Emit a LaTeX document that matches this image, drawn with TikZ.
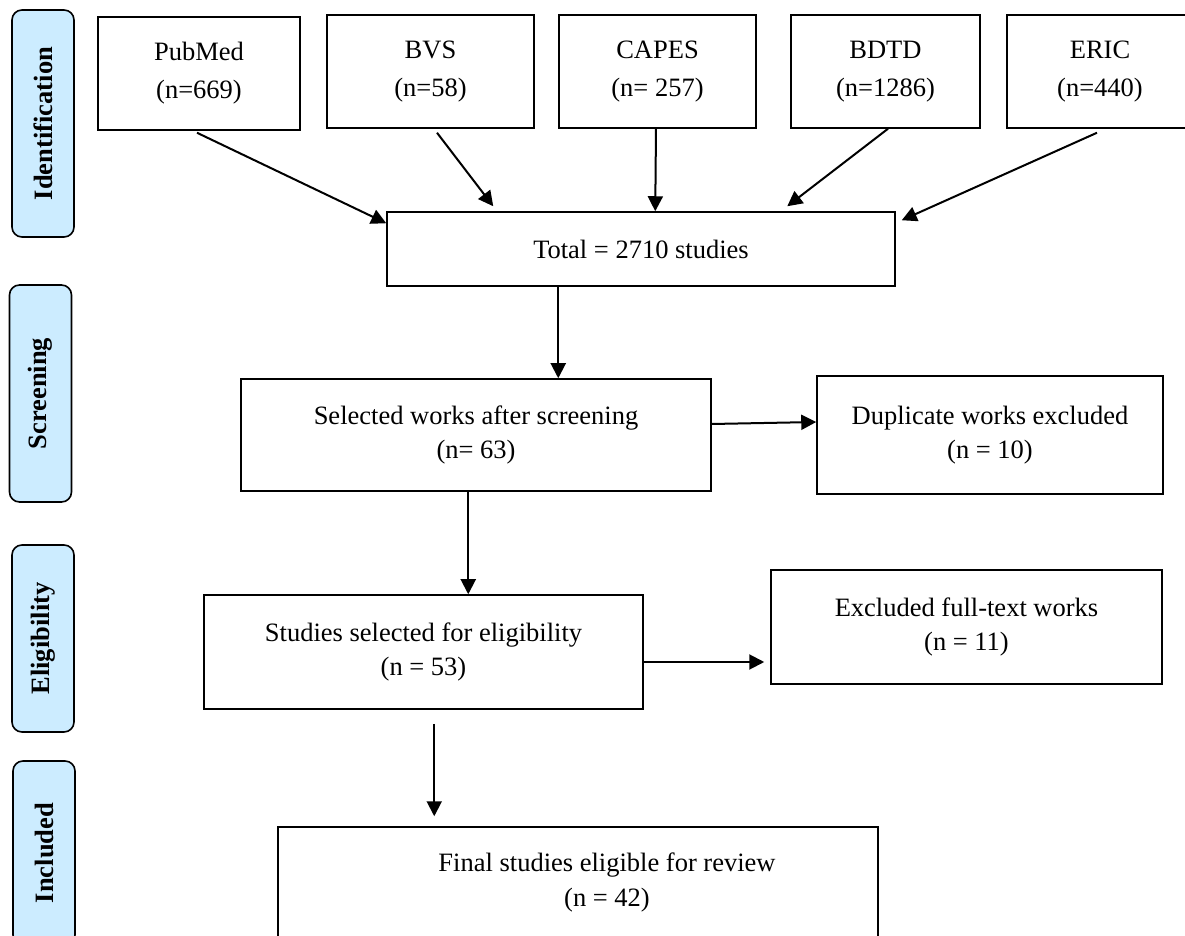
\documentclass[tikz,border=0pt]{standalone}
\usepackage{fontspec}
\setmainfont{Liberation Serif}
\usetikzlibrary{calc,arrows.meta}
\definecolor{sidefill}{RGB}{204,236,255}
\tikzset{
  box/.style={draw=black, line width=0.75pt, fill=white, align=center, inner sep=0pt,
    font=\fontsize{13.25}{17}\selectfont},
  srcbox/.style={box, font=\fontsize{13.25}{19}\selectfont, minimum height=56.5pt},
  side/.style={draw=black, line width=0.8pt, fill=sidefill, rounded corners=5pt, rotate=90,
    inner sep=0pt, minimum height=31pt, font=\fontsize{13.25}{16}\selectfont\bfseries},
  arr/.style={line width=1pt, -{Triangle[length=7.5pt,width=7.5pt]}},
  txt/.style={align=center, inner sep=0pt, font=\fontsize{13.25}{17.5}\selectfont}
}
\begin{document}
\begin{tikzpicture}[x=0.5pt,y=-0.5pt]
\useasboundingbox (0,0) rectangle (1185,936);
% phase labels
\node[side, minimum width=113.5pt] (idn) at (43,123.5) {Identification};
\node[side, minimum width=108.5pt] (scr) at (40.5,393.5) {Screening};
\node[side, minimum width=93.5pt] (eli) at (43,638.5) {Eligibility};
\node[side, minimum width=92pt] (inc) at (44,853) {Included};
% sources
\node[srcbox, minimum width=101pt, minimum height=56.5pt] (pub) at (199,73.5) {PubMed\\(n=669)};
\node[srcbox, minimum width=103.5pt] (bvs) at (430.5,71.5) {BVS\\(n=58)};
\node[srcbox, minimum width=98.5pt] (capes) at (657.5,71.5) {CAPES\\(n= 257)};
\node[srcbox, minimum width=94.5pt] (bdtd) at (885.5,71.5) {BDTD\\(n=1286)};
\node[srcbox, minimum width=93pt] (eric) at (1100,71.5) {ERIC\\(n=440)};
% flow
\node[box, minimum width=254pt, minimum height=37pt] (total) at (641,249) {Total = 2710 studies};
\node[box, minimum width=235pt, minimum height=56pt] (sel) at (476,435) {Selected works after screening\\(n= 63)};
\node[box, minimum width=173pt, minimum height=59pt] (dup) at (990,435) {Duplicate works excluded\\(n = 10)};
\node[box, minimum width=219.5pt, minimum height=57pt] (stu) at (423.5,652) {Studies selected for eligibility\\(n = 53)};
\node[box, minimum width=195.5pt, minimum height=57pt] (exc) at (966.5,627) {Excluded full-text works\\(n = 11)};
\node[box, minimum width=300pt, minimum height=59pt] (fin) at (578,886) {};
\node[txt] (fintxt) at (607,882) {Final studies eligible for review\\(n = 42)};
% connectors
\draw[arr] ($(pub.south)+(-2,2)$) -- ($(total.north west)+(0,12)$);
\draw[arr] ($(bvs.south)+(6.5,4)$) -- ($(total.north west)+(107,-5)$);
\draw[arr] ($(capes.south)+(-1.5,0)$) -- ($(total.north west)+(269,0)$);
\draw[arr] ($(bdtd.south)+(2.5,0)$) -- ($(total.north west)+(401,-5)$);
\draw[arr] ($(eric.south)+(-3,4)$) -- ($(total.north east)+(6,9)$);
\draw[arr] ($(total.south west)+(172,0)$) -- ($(sel.north west)+(318,0)$);
\draw[arr] ($(sel.east)+(0,-11)$) -- ($(dup.west)+(0,-13)$);
\draw[arr] ($(sel.south west)+(228,0)$) -- ($(stu.north west)+(265,0)$);
\draw[arr] ($(stu.east)+(0,10)$) -- ($(exc.west)+(-6,35)$);
\draw[arr] ($(stu.south west)+(231,14)$) -- ($(fin.north west)+(157,-10)$);
\end{tikzpicture}
\end{document}
